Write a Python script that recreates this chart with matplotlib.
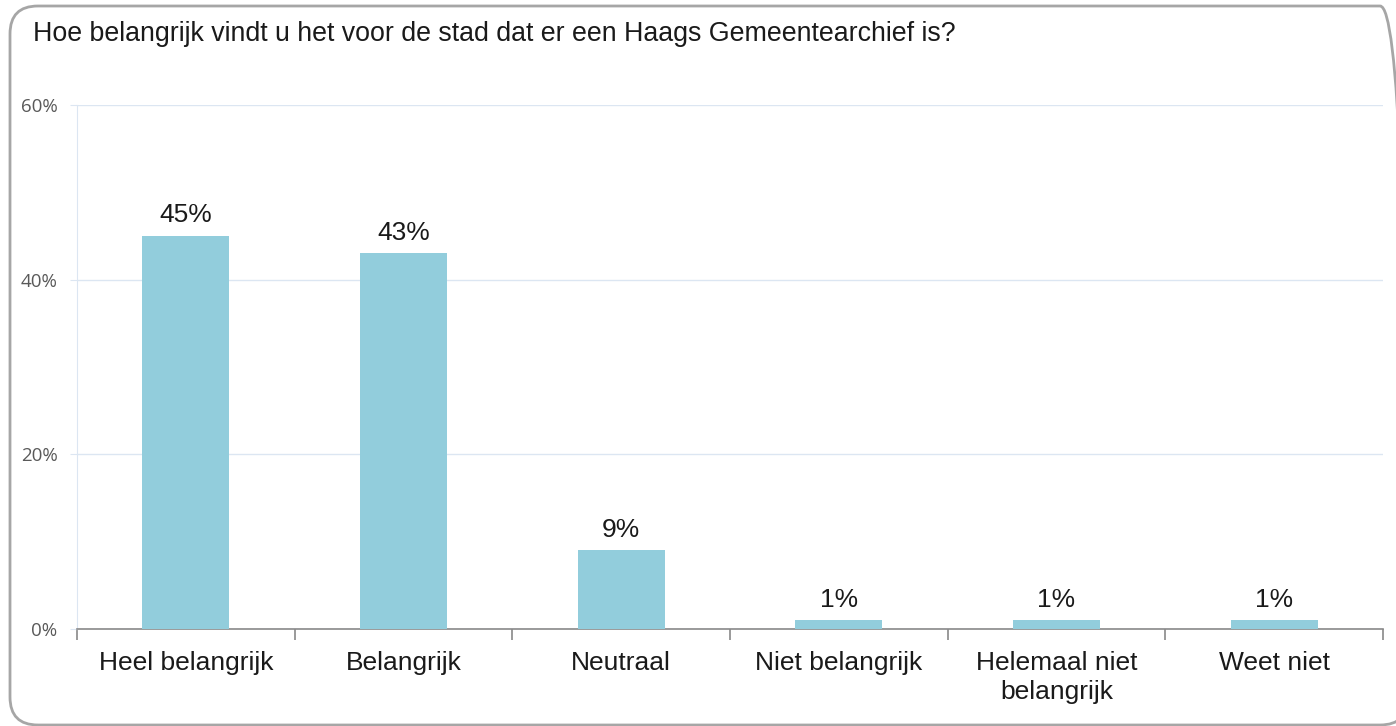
import matplotlib
matplotlib.use("Agg")
import matplotlib.pyplot as plt
from matplotlib.patches import FancyBboxPatch

title = "Hoe belangrijk vindt u het voor de stad dat er een Haags Gemeentearchief is?"
categories = ["Heel belangrijk", "Belangrijk", "Neutraal", "Niet belangrijk",
              "Helemaal niet\nbelangrijk", "Weet niet"]
values = [45, 43, 9, 1, 1, 1]
yticks = [0, 20, 40, 60]

bar_color = "#92CDDC"
grid_color = "#DCE6F2"

fig = plt.figure(figsize=(13.96, 7.26), dpi=100)
plt.rcParams['font.family'] = ['Liberation Sans', 'DejaVu Sans']

# rounded outer frame (runs off the right edge, like the reference)
frame = FancyBboxPatch((10 / 1396, 1 / 726), 1398 / 1396, 719 / 726,
                       boxstyle="round,pad=0,rounding_size=0.02",
                       transform=fig.transFigure, facecolor="none",
                       edgecolor="#A6A6A6", linewidth=2, mutation_aspect=1396 / 726,
                       zorder=-1, clip_on=False)
fig.patches.append(frame)

ax = fig.add_axes([77 / 1396, 1 - 629 / 726, (1383 - 77) / 1396, (629 - 105) / 726])
ax.set_facecolor("none")

x = list(range(len(categories)))
ax.bar(x, values, width=0.4, color=bar_color, zorder=3)
for xi, v in zip(x, values):
    ax.text(xi, v + 1.0, f"{v}%", ha="center", va="bottom", fontsize=19, color="#1a1a1a")

ax.set_xlim(-0.5, len(categories) - 0.5)
ax.set_ylim(0, 60)
ax.set_yticks(yticks)
ax.set_yticklabels([f"{t}%" for t in yticks], fontsize=13.5, color="#595959",
                   family=['Open Sans', 'DejaVu Sans'])
ax.yaxis.grid(True, color=grid_color, linewidth=1)
ax.set_axisbelow(True)
ax.tick_params(axis="y", length=5, color=grid_color, pad=9)

ax.set_xticks(x)
ax.set_xticklabels(categories, fontsize=19, color="#1a1a1a", linespacing=1.25)
ax.set_xticks([i - 0.5 for i in range(len(categories) + 1)], minor=True)
ax.tick_params(axis="x", which="major", length=0, pad=16)
ax.tick_params(axis="x", which="minor", length=8, color="#898989", width=1.2)

for side in ["top", "right"]:
    ax.spines[side].set_visible(False)
ax.spines["left"].set_color(grid_color)
ax.spines["bottom"].set_color("#898989")
ax.spines["bottom"].set_linewidth(1.2)

fig.text(33 / 1396, 1 - 34 / 726, title, fontsize=19.3, color="#1a1a1a", va="center", ha="left")

fig.savefig("out.png", dpi=100)
